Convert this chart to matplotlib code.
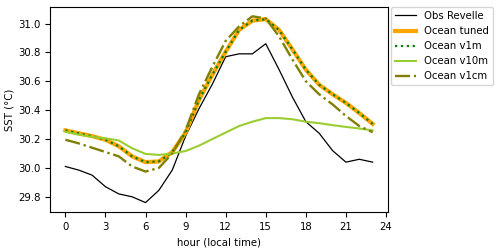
import numpy as np
import matplotlib
matplotlib.use("Agg")
import matplotlib.pyplot as plt

hours = np.arange(24)

obs_revelle = [30.01, 29.985, 29.95, 29.87, 29.82, 29.80, 29.76, 29.845, 29.985, 30.22,
               30.41, 30.58, 30.77, 30.79, 30.79, 30.86, 30.68, 30.49, 30.32, 30.24,
               30.12, 30.04, 30.06, 30.04]
ocean_tuned = [30.26, 30.24, 30.22, 30.195, 30.15, 30.08, 30.04, 30.045, 30.11, 30.245,
               30.47, 30.645, 30.805, 30.955, 31.02, 31.03, 30.955, 30.82, 30.68, 30.576,
               30.51, 30.45, 30.38, 30.305]
ocean_v1m = [30.26, 30.24, 30.22, 30.195, 30.15, 30.08, 30.04, 30.045, 30.11, 30.245,
             30.47, 30.645, 30.805, 30.955, 31.02, 31.03, 30.955, 30.82, 30.68, 30.576,
             30.51, 30.45, 30.38, 30.305]
ocean_v10m = [30.25, 30.23, 30.215, 30.205, 30.19, 30.136, 30.097, 30.09, 30.10, 30.117,
              30.154, 30.20, 30.245, 30.29, 30.32, 30.345, 30.345, 30.337, 30.32, 30.31,
              30.296, 30.284, 30.273, 30.26]
ocean_v1cm = [30.195, 30.17, 30.14, 30.11, 30.08, 30.01, 29.975, 30.0, 30.10, 30.26,
              30.51, 30.70, 30.88, 30.98, 31.05, 31.035, 30.91, 30.75, 30.60, 30.51,
              30.44, 30.36, 30.29, 30.247]

plt.rcParams['font.size'] = 7.3

fig = plt.figure(figsize=(5.0, 2.49), dpi=100)
ax = fig.add_axes([0.1, 0.149, 0.676, 0.823])

ax.plot(hours, obs_revelle, color='k', lw=0.9, label='Obs Revelle')
ax.plot(hours, ocean_tuned, color='orange', lw=3, label='Ocean tuned')
ax.plot(hours, ocean_v1m, color='green', lw=1.6, ls=':', label='Ocean v1m')
ax.plot(hours, ocean_v10m, color='yellowgreen', lw=1.5, label='Ocean v10m')
ax.plot(hours, ocean_v1cm, color='olive', lw=1.7, ls='-.', label='Ocean v1cm')

ax.set_xticks(np.arange(0, 25, 3))
ax.set_xlabel('hour (local time)')
ax.set_ylabel('SST (\u00b0C)', labelpad=2)
ax.legend(loc='upper left', bbox_to_anchor=(1.01, 1.0), borderaxespad=0.0,
          fontsize=7.3)

fig.savefig('out.png', dpi=100)
